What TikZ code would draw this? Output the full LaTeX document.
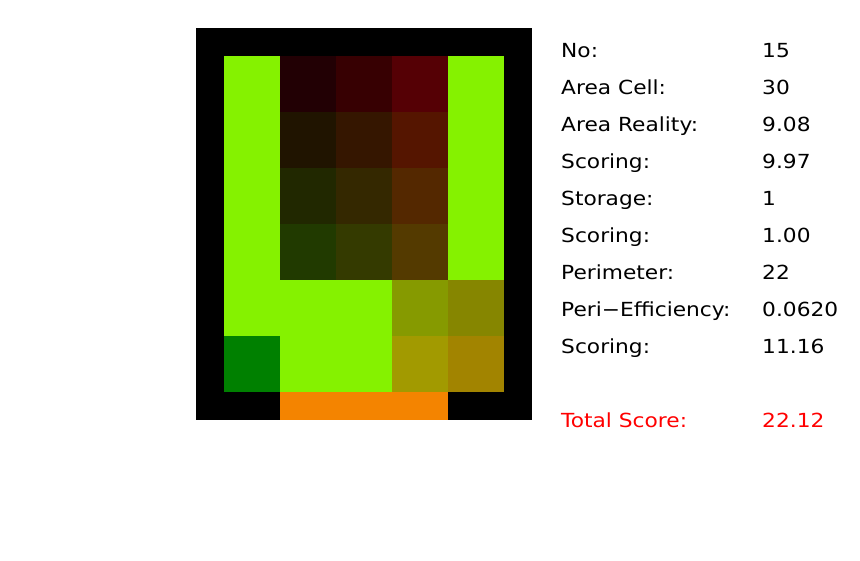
\documentclass[tikz,border=0pt]{standalone}
\usepackage{fontspec}
\setmainfont[FakeStretch=1.12]{DejaVu Sans}
\definecolor{lime}{HTML}{85F200}
\definecolor{aa}{HTML}{220004}
\definecolor{ab}{HTML}{370002}
\definecolor{ac}{HTML}{550005}
\definecolor{ba}{HTML}{201400}
\definecolor{bb}{HTML}{351600}
\definecolor{bc}{HTML}{551500}
\definecolor{ca}{HTML}{212800}
\definecolor{cb}{HTML}{342800}
\definecolor{cc}{HTML}{542800}
\definecolor{da}{HTML}{213A00}
\definecolor{db}{HTML}{343A00}
\definecolor{dc}{HTML}{543A00}
\definecolor{ea}{HTML}{869A00}
\definecolor{eb}{HTML}{868600}
\definecolor{fa}{HTML}{A29A00}
\definecolor{fb}{HTML}{A28400}
\definecolor{gr}{HTML}{008000}
\definecolor{org}{HTML}{F48400}
\definecolor{tred}{HTML}{FF0000}
\begin{document}
\begin{tikzpicture}[x=1pt,y=-1pt,
  lbl/.style={anchor=base west,inner sep=0pt,font=\fontsize{19.4}{22}\selectfont},
  tot/.style={lbl,text=tred}]
\useasboundingbox (0,0) rectangle (860,560);
\fill[white] (0,0) rectangle (860,560);
% frame
\fill[black] (196,28) rectangle (532,420);
% column 1
\fill[lime] (224,56) rectangle (280,336);
\fill[gr] (224,336) rectangle (280,392);
% column 5
\fill[lime] (448,56) rectangle (504,280);
% rows 5-6, cols 2-3
\fill[lime] (280,280) rectangle (392,392);
% dark cells
\fill[aa] (280,56) rectangle (336,112);
\fill[ab] (336,56) rectangle (392,112);
\fill[ac] (392,56) rectangle (448,112);
\fill[ba] (280,112) rectangle (336,168);
\fill[bb] (336,112) rectangle (392,168);
\fill[bc] (392,112) rectangle (448,168);
\fill[ca] (280,168) rectangle (336,224);
\fill[cb] (336,168) rectangle (392,224);
\fill[cc] (392,168) rectangle (448,224);
\fill[da] (280,224) rectangle (336,280);
\fill[db] (336,224) rectangle (392,280);
\fill[dc] (392,224) rectangle (448,280);
\fill[ea] (392,280) rectangle (448,336);
\fill[eb] (448,280) rectangle (504,336);
\fill[fa] (392,336) rectangle (448,392);
\fill[fb] (448,336) rectangle (504,392);
% bottom opening
\fill[org] (280,392) rectangle (448,420);
% texts
\node[lbl] (l1) at (561,57) {No:};
\node[lbl] (v1) at (762,57) {15};
\node[lbl] (l2) at (561,94) {Area Cell:};
\node[lbl] (v2) at (762,94) {30};
\node[lbl] (l3) at (561,131) {Area Reality:};
\node[lbl] (v3) at (762,131) {9.08};
\node[lbl] (l4) at (561,168) {Scoring:};
\node[lbl] (v4) at (762,168) {9.97};
\node[lbl] (l5) at (561,205) {Storage:};
\node[lbl] (v5) at (762,205) {1};
\node[lbl] (l6) at (561,242) {Scoring:};
\node[lbl] (v6) at (762,242) {1.00};
\node[lbl] (l7) at (561,279) {Perimeter:};
\node[lbl] (v7) at (762,279) {22};
\node[lbl] (l8) at (561,316) {Peri\textminus Efficiency:};
\node[lbl] (v8) at (762,316) {0.0620};
\node[lbl] (l9) at (561,353) {Scoring:};
\node[lbl] (v9) at (762,353) {11.16};
\node[tot] (lt) at (561,427) {Total Score:};
\node[tot] (vt) at (762,427) {22.12};
\end{tikzpicture}
\end{document}
